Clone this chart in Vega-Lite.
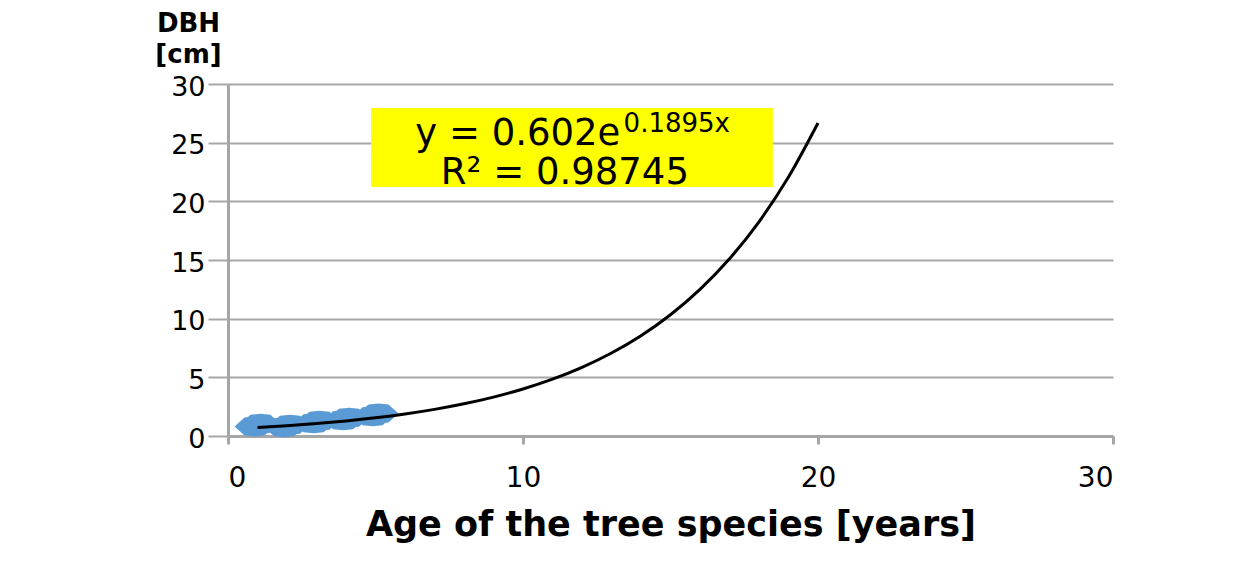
{
  "$schema": "https://vega.github.io/schema/vega-lite/v6.json",
  "width": 885,
  "height": 352,
  "autosize": {"type": "none"},
  "padding": {"left": 228, "top": 84, "right": 135, "bottom": 125},
  "background": "white",
  "config": {
    "view": {"stroke": null},
    "font": "DejaVu Sans"
  },
  "datasets": {
    "obs": [
      {"age": 0.9, "dbh": 0.82}, {"age": 1.1, "dbh": 1.04},
      {"age": 1.9, "dbh": 0.74}, {"age": 2.1, "dbh": 0.96},
      {"age": 2.9, "dbh": 1.09}, {"age": 3.1, "dbh": 1.31},
      {"age": 3.9, "dbh": 1.34}, {"age": 4.1, "dbh": 1.56},
      {"age": 4.9, "dbh": 1.69}, {"age": 5.1, "dbh": 1.91}
    ],
    "trend": [
      {"age": 1, "dbh": 0.728}, {"age": 2, "dbh": 0.880}, {"age": 3, "dbh": 1.063},
      {"age": 4, "dbh": 1.285}, {"age": 5, "dbh": 1.553}, {"age": 6, "dbh": 1.877},
      {"age": 7, "dbh": 2.269}, {"age": 8, "dbh": 2.743}, {"age": 9, "dbh": 3.315},
      {"age": 10, "dbh": 4.007}, {"age": 11, "dbh": 4.843}, {"age": 12, "dbh": 5.854},
      {"age": 13, "dbh": 7.076}, {"age": 14, "dbh": 8.553}, {"age": 15, "dbh": 10.338},
      {"age": 16, "dbh": 12.496}, {"age": 17, "dbh": 15.104}, {"age": 18, "dbh": 18.256},
      {"age": 19, "dbh": 22.066}, {"age": 20, "dbh": 26.672}
    ],
    "box": [{"x1": 4.85, "x2": 18.47, "y1": 21.22, "y2": 27.95}],
    "labels": [
      {"x": 13.3, "y": 24.8, "txt": "y = 0.602e", "part": "main"},
      {"x": 13.41, "y": 25.9, "txt": "0.1895x", "part": "sup"},
      {"x": 11.42, "y": 21.45, "txt": "R² = 0.98745", "part": "r2"}
    ]
  },
  "layer": [
    {
      "data": {"name": "obs"},
      "mark": {
        "type": "point",
        "filled": true,
        "shape": "M-1,0L-0.5,-0.45L0,-0.5L0.5,-0.45L1,0L0.5,0.45L0,0.5L-0.5,0.45Z",
        "size": 1600,
        "color": "#5b9bd5",
        "opacity": 1
      },
      "encoding": {
        "x": {
          "field": "age", "type": "quantitative",
          "scale": {"domain": [0, 30], "nice": false, "zero": true},
          "axis": {
            "values": [0, 10, 20, 30],
            "grid": false,
            "domainColor": "#a6a6a6", "domainWidth": 3,
            "tickColor": "#a6a6a6", "tickWidth": 3, "tickSize": 8,
            "labelFontSize": 28, "labelColor": "black", "labelPadding": 20,
            "labelFont": "DejaVu Sans",
            "title": "Age of the tree species [years]",
            "titleFontSize": 35, "titleFontWeight": "bold", "titleColor": "black",
            "titleFont": "DejaVu Sans", "titlePadding": 15
          }
        },
        "y": {
          "field": "dbh", "type": "quantitative",
          "scale": {"domain": [0, 30], "nice": false, "zero": true},
          "axis": {
            "values": [0, 5, 10, 15, 20, 25, 30],
            "grid": true, "gridColor": "#a6a6a6", "gridWidth": 2,
            "domainColor": "#a6a6a6", "domainWidth": 3,
            "tickColor": "#a6a6a6", "tickWidth": 2, "tickSize": 20,
            "labelFontSize": 27, "labelColor": "black", "labelPadding": 3,
            "labelOffset": 3,
            "labelFont": "DejaVu Sans",
            "title": ["DBH", "[cm]"],
            "titleAngle": 0, "titleAlign": "center", "titleBaseline": "top",
            "titleX": -40, "titleY": -74, "titleLineHeight": 31,
            "titleFontSize": 26, "titleFontWeight": "bold", "titleColor": "black",
            "titleFont": "DejaVu Sans"
          }
        }
      }
    },
    {
      "data": {"name": "trend"},
      "mark": {"type": "line", "color": "black", "strokeWidth": 3, "interpolate": "monotone"},
      "encoding": {
        "x": {"field": "age", "type": "quantitative"},
        "y": {"field": "dbh", "type": "quantitative"}
      }
    },
    {
      "data": {"name": "box"},
      "mark": {"type": "rect", "color": "#ffff00"},
      "encoding": {
        "x": {"field": "x1", "type": "quantitative"},
        "x2": {"field": "x2"},
        "y": {"field": "y1", "type": "quantitative"},
        "y2": {"field": "y2"}
      }
    },
    {
      "data": {"name": "labels"},
      "transform": [{"filter": "datum.part === 'main'"}],
      "mark": {"type": "text", "align": "right", "baseline": "alphabetic", "fontSize": 37, "color": "black", "font": "DejaVu Sans"},
      "encoding": {
        "x": {"field": "x", "type": "quantitative"},
        "y": {"field": "y", "type": "quantitative"},
        "text": {"field": "txt"}
      }
    },
    {
      "data": {"name": "labels"},
      "transform": [{"filter": "datum.part === 'sup'"}],
      "mark": {"type": "text", "align": "left", "baseline": "alphabetic", "fontSize": 26, "color": "black", "font": "DejaVu Sans"},
      "encoding": {
        "x": {"field": "x", "type": "quantitative"},
        "y": {"field": "y", "type": "quantitative"},
        "text": {"field": "txt"}
      }
    },
    {
      "data": {"name": "labels"},
      "transform": [{"filter": "datum.part === 'r2'"}],
      "mark": {"type": "text", "align": "center", "baseline": "alphabetic", "fontSize": 37, "color": "black", "font": "DejaVu Sans"},
      "encoding": {
        "x": {"field": "x", "type": "quantitative"},
        "y": {"field": "y", "type": "quantitative"},
        "text": {"field": "txt"}
      }
    }
  ]
}
